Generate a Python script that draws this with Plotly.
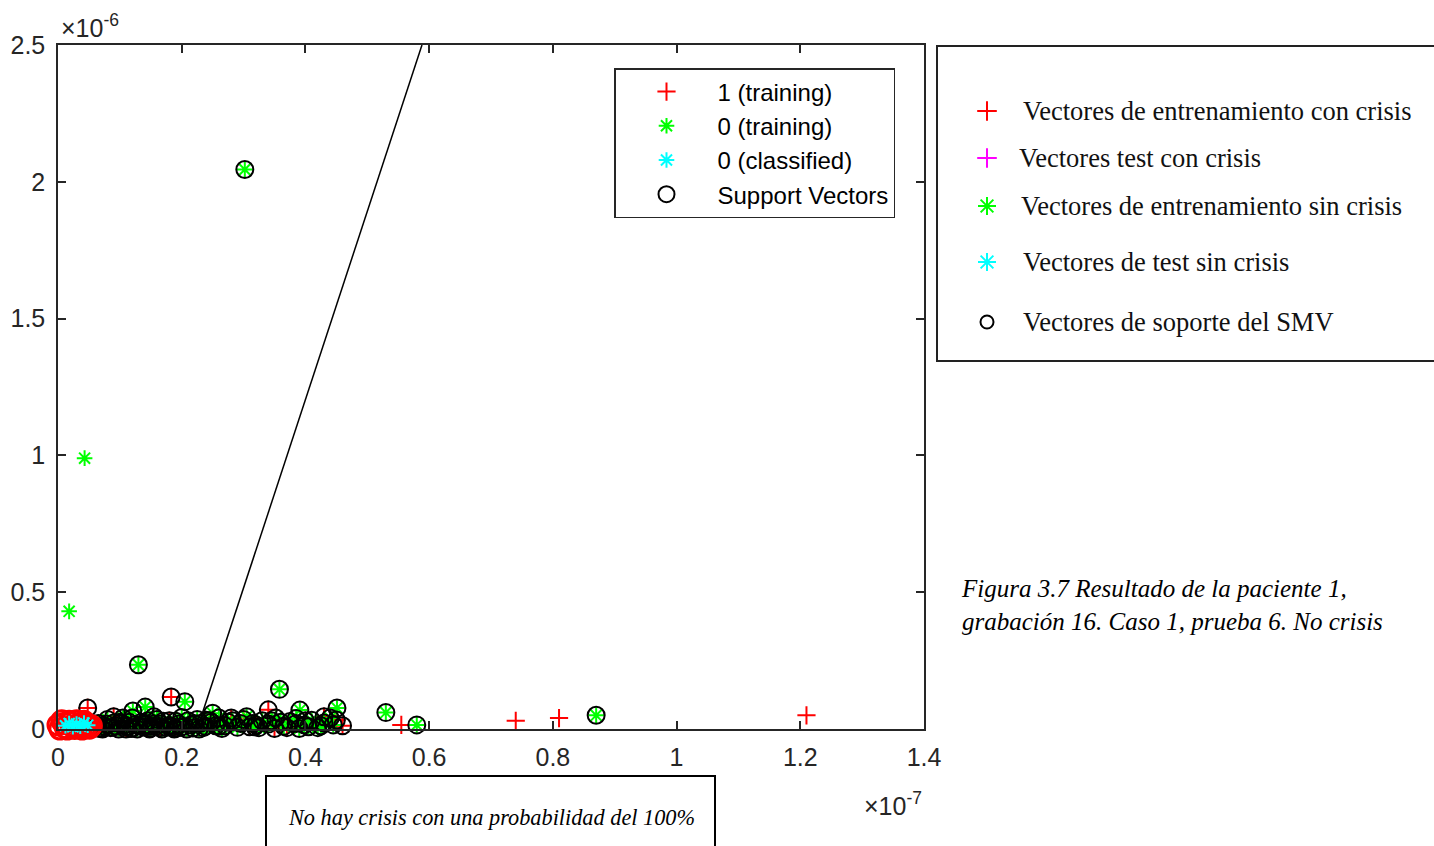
import plotly.graph_objects as go

# ---------------- data (x in units of 1e-7, y in units of 1e-6) ----------------
x_train1 = [1.21, 0.81, 0.74, 0.555, 0.183, 0.048, 0.34, 0.45, 0.46,
            0.10, 0.12, 0.15, 0.18, 0.22, 0.26, 0.30, 0.32, 0.37, 0.40, 0.43, 0.09, 0.20, 0.28, 0.35,
            0.075, 0.135, 0.165, 0.245, 0.31, 0.385, 0.065, 0.11, 0.155, 0.19]
y_train1 = [0.05, 0.04, 0.03, 0.015, 0.117, 0.077, 0.07, 0.033, 0.012,
            0.02, 0.04, 0.01, 0.03, 0.02, 0.01, 0.035, 0.015, 0.005, 0.03, 0.045, 0.045, 0.008, 0.04, 0.002,
            0.01, 0.025, 0.005, 0.03, 0.008, 0.02, 0.003, 0.0, 0.018, 0.002]
sv_idx1 = list(range(4, len(x_train1)))

x_train0 = [0.302, 0.043, 0.018, 0.13, 0.358, 0.205, 0.141, 0.121, 0.25, 0.391, 0.451, 0.53, 0.58, 0.87,
            0.065, 0.08, 0.095, 0.105, 0.115, 0.13, 0.145, 0.155, 0.165, 0.175, 0.19, 0.20, 0.215, 0.225,
            0.235, 0.248, 0.26, 0.27, 0.282, 0.295, 0.305, 0.318, 0.33, 0.34, 0.352, 0.365, 0.375, 0.385,
            0.398, 0.41, 0.42, 0.43, 0.44, 0.07, 0.11, 0.16, 0.21, 0.29, 0.36, 0.425,
            0.085, 0.1, 0.12, 0.14, 0.17, 0.185, 0.195, 0.23, 0.255, 0.275, 0.315, 0.345, 0.405,
            0.09, 0.125, 0.15, 0.18, 0.24, 0.265, 0.325, 0.39, 0.445,
            0.06, 0.072, 0.078, 0.088, 0.098, 0.108, 0.118, 0.128, 0.138, 0.148, 0.158, 0.168, 0.178,
            0.188, 0.198, 0.208, 0.218, 0.228, 0.238]
y_train0 = [2.045, 0.99, 0.43, 0.235, 0.145, 0.10, 0.08, 0.066, 0.058, 0.069, 0.077, 0.06, 0.015, 0.05,
            0.02, 0.035, 0.01, 0.04, 0.025, 0.012, 0.03, 0.045, 0.018, 0.006, 0.028, 0.042, 0.015, 0.035,
            0.005, 0.025, 0.04, 0.012, 0.03, 0.02, 0.045, 0.008, 0.03, 0.018, 0.04, 0.01, 0.027, 0.038,
            0.015, 0.032, 0.005, 0.022, 0.04, 0.004, 0.008, 0.035, 0.03, 0.006, 0.025, 0.012,
            0.005, 0.025, 0.003, 0.015, 0.028, 0.008, 0.018, 0.02, 0.012, 0.025, 0.02, 0.03, 0.008,
            0.022, 0.016, 0.004, 0.012, 0.032, 0.002, 0.005, 0.002, 0.015,
            0.008, 0.0, 0.018, 0.006, 0.0, 0.015, 0.002, 0.0, 0.007, 0.0, 0.01, 0.0, 0.012,
            0.0, 0.006, 0.0, 0.004, 0.0, 0.01]
sv_idx0 = [0] + list(range(3, len(x_train0)))

x_class0 = [0.012, 0.018, 0.024, 0.03, 0.036, 0.042, 0.048]
y_class0 = [0.012, 0.02, 0.008, 0.018, 0.01, 0.022, 0.014]

x_red_o = [0.0, 0.006, 0.012, 0.018, 0.024, 0.03, 0.036, 0.042, 0.048, 0.054,
           0.003, 0.015, 0.027, 0.039, 0.051, 0.009, 0.021, 0.033, 0.045]
y_red_o = [0.015, 0.03, 0.005, 0.028, 0.012, 0.03, 0.008, 0.028, 0.015, 0.012,
           0.0, 0.0, 0.002, 0.0, 0.003, 0.02, 0.025, 0.018, 0.022]

x_sv = [x_train0[i] for i in sv_idx0] + [x_train1[i] for i in sv_idx1]
y_sv = [y_train0[i] for i in sv_idx0] + [y_train1[i] for i in sv_idx1]

x_boundary = [0.225, 0.5884]
y_boundary = [0.0, 2.5]

x_ticks = [0, 0.2, 0.4, 0.6, 0.8, 1.0, 1.2, 1.4]
x_ticklabels = ["0", "0.2", "0.4", "0.6", "0.8", "1", "1.2", "1.4"]
y_ticks = [0, 0.5, 1.0, 1.5, 2.0, 2.5]
y_ticklabels = ["0", "0.5", "1", "1.5", "2", "2.5"]

legend2_labels = ["Vectores de entrenamiento con crisis", "Vectores test con crisis",
                  "Vectores de entrenamiento sin crisis", "Vectores de test sin crisis",
                  "Vectores de soporte del SMV"]

# ---------------- figure ----------------
W, H = 1434, 846
AX = "#262626"
SANS = "Liberation Sans, Arial, sans-serif"
SERIF = "Liberation Serif, Times New Roman, serif"

fig = go.Figure()

fig.add_trace(go.Scatter(x=x_train1, y=y_train1, mode="markers", name="1 (training)", legendrank=1,
                         marker=dict(symbol="cross-thin-open", size=13, color="#ff0000", line=dict(width=2, color="#ff0000")),
                         cliponaxis=False))
fig.add_trace(go.Scatter(x=x_train0, y=y_train0, mode="markers", name="0 (training)", legendrank=2,
                         marker=dict(symbol="asterisk-open", size=13, color="#00ff00", line=dict(width=2, color="#00ff00")),
                         cliponaxis=False))
fig.add_trace(go.Scatter(x=x_sv, y=y_sv, mode="markers", name="Support Vectors", legendrank=4,
                         marker=dict(symbol="circle-open", size=17, color="#000000", line=dict(width=2, color="#000000")),
                         cliponaxis=False))
fig.add_trace(go.Scatter(x=x_red_o, y=y_red_o, mode="markers", showlegend=False,
                         marker=dict(symbol="circle-open", size=20, color="#ff0000", line=dict(width=3, color="#ff0000")),
                         cliponaxis=False))
fig.add_trace(go.Scatter(x=x_class0, y=y_class0, mode="markers", name="0 (classified)", legendrank=3,
                         marker=dict(symbol="asterisk-open", size=13, color="#00ffff", line=dict(width=2, color="#00ffff")),
                         cliponaxis=False))
fig.add_trace(go.Scatter(x=x_boundary, y=y_boundary, mode="lines", showlegend=False,
                         line=dict(color="#000000", width=1.5)))

# overlay pixel axis for the second (image-like) legend
leg2_y = [111, 158, 206, 262, 322]
leg2_sym = ["cross-thin-open", "cross-thin-open", "asterisk-open", "asterisk-open", "circle-open"]
leg2_col = ["#ff0000", "#ff00ff", "#00ff00", "#00ffff", "#000000"]
leg2_size = [14, 14, 15, 15, 13]
leg2_textx = [1021, 1017, 1019, 1021, 1021]
for yy, sy, cc, ss in zip(leg2_y, leg2_sym, leg2_col, leg2_size):
    fig.add_trace(go.Scatter(x=[987], y=[yy], xaxis="x2", yaxis="y2", mode="markers", showlegend=False,
                             hoverinfo="skip", cliponaxis=False,
                             marker=dict(symbol=sy, size=ss, color=cc, line=dict(width=2, color=cc))))

annotations = []
for yy, tx, lab in zip(leg2_y, leg2_textx, legend2_labels):
    annotations.append(dict(x=tx, y=yy, xref="x2", yref="y2", text=lab, showarrow=False,
                            xanchor="left", yanchor="middle", font=dict(family=SERIF, size=26.5, color="#111111")))

annotations += [
    dict(x=59, y=44, xref="x2", yref="y2", text="×10<sup>-6</sup>", showarrow=False,
         xanchor="left", yanchor="bottom", font=dict(family=SANS, size=25, color=AX)),
    dict(x=924, y=822, xref="x2", yref="y2", text="×10<sup>-7</sup>", showarrow=False,
         xanchor="right", yanchor="bottom", font=dict(family=SANS, size=25, color=AX)),
    dict(x=491, y=817, xref="x2", yref="y2", text="<i>No hay crisis con una probabilidad del 100%</i>",
         showarrow=False, xanchor="center", yanchor="middle", font=dict(family=SERIF, size=22.3, color="#000000")),
    dict(x=959, y=605, xref="x2", yref="y2",
         text="<i>Figura 3.7 Resultado de la paciente 1,<br>grabación 16. Caso 1, prueba 6. No crisis</i>",
         showarrow=False, xanchor="left", yanchor="middle", align="left",
         font=dict(family=SERIF, size=25, color="#000000")),
]

shapes = [
    dict(type="rect", xref="x2", yref="y2", x0=937, y0=46, x1=1445, y1=361,
         line=dict(color="#222222", width=2), fillcolor="rgba(0,0,0,0)"),
    dict(type="rect", xref="x2", yref="y2", x0=266, y0=776, x1=715, y1=860,
         line=dict(color="#000000", width=2), fillcolor="rgba(0,0,0,0)"),
]

axis_common = dict(showgrid=False, zeroline=False, showline=True, linecolor=AX, linewidth=1.5,
                   mirror="ticks", ticks="inside", ticklen=8, tickwidth=1.5, tickcolor=AX,
                   automargin=False, tickfont=dict(family=SANS, size=25, color=AX))

fig.update_layout(
    template="none",
    width=W, height=H, margin=dict(l=0, r=0, t=0, b=0, pad=0), autosize=False,
    paper_bgcolor="white", plot_bgcolor="rgba(0,0,0,0)",
    xaxis=dict(domain=[58 / W, 924 / W], range=[0, 1.4], tickvals=x_ticks, ticktext=x_ticklabels,
               ticklabelstandoff=5, **axis_common),
    yaxis=dict(domain=[1 - 729 / H, 1 - 45 / H], range=[0, 2.5], tickvals=y_ticks, ticktext=y_ticklabels,
               ticklabelstandoff=6, **axis_common),
    xaxis2=dict(domain=[0, 1], range=[0, W], visible=False, anchor="y2", fixedrange=True, automargin=False),
    yaxis2=dict(domain=[0, 1], range=[H, 0], visible=False, anchor="x2", fixedrange=True, automargin=False),
    legend=dict(x=614 / W, y=1 - 68 / H, xanchor="left", yanchor="top",
                bgcolor="white", bordercolor=AX, borderwidth=1.5,
                font=dict(family=SANS, size=24, color="#000000"), itemwidth=92,
                traceorder="normal"),
    annotations=annotations, shapes=shapes, showlegend=True,
)

fig.write_html("out.html")
